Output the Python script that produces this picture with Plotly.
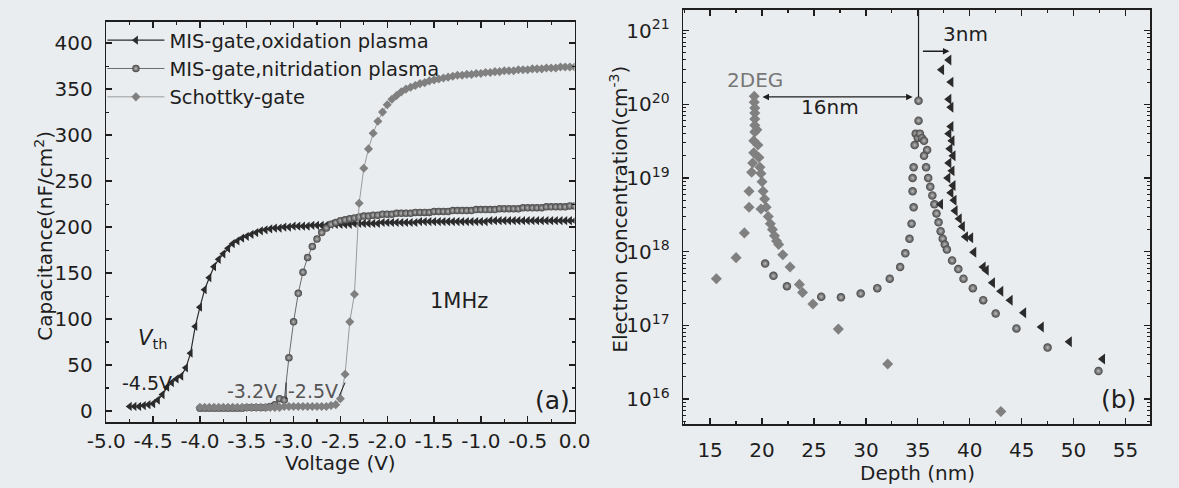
import plotly.graph_objects as go

# ---------------- Panel (a): C-V curves ----------------
V_OX = [-4.75, -4.70, -4.65, -4.60, -4.55, -4.50, -4.45, -4.40, -4.35, -4.30,
        -4.25, -4.20, -4.15, -4.10, -4.05, -4.00, -3.95, -3.90, -3.85, -3.80,
        -3.75, -3.70, -3.65, -3.60, -3.55, -3.50, -3.45, -3.40, -3.35, -3.30,
        -3.25, -3.20, -3.15, -3.10, -3.05, -3.00, -2.95, -2.90, -2.85, -2.80,
        -2.75, -2.70, -2.65, -2.60, -2.55, -2.50, -2.45, -2.40, -2.35, -2.30,
        -2.25, -2.20, -2.15, -2.10, -2.05, -2.00, -1.95, -1.90, -1.85, -1.80,
        -1.75, -1.70, -1.65, -1.60, -1.55, -1.50, -1.45, -1.40, -1.35, -1.30,
        -1.25, -1.20, -1.15, -1.10, -1.05, -1.00, -0.95, -0.90, -0.85, -0.80,
        -0.75, -0.70, -0.65, -0.60, -0.55, -0.50, -0.45, -0.40, -0.35, -0.30,
        -0.25, -0.20, -0.15, -0.10, -0.05, 0.00]
C_OX = [5, 5, 5, 6, 7, 8, 12, 18, 26, 31,
        35, 38, 47, 63, 92, 113, 132, 145, 157, 165,
        171, 177, 182, 185, 188, 190, 192, 194, 196, 197,
        198, 199, 199, 200, 200, 201, 201, 201, 201, 202,
        202, 202, 202, 203, 203, 203, 203, 203, 204, 204,
        204, 204, 204, 204, 205, 205, 205, 205, 205, 205,
        205, 205, 206, 206, 206, 206, 206, 206, 206, 206,
        206, 206, 206, 206, 206, 206, 206, 207, 207, 207,
        207, 207, 207, 207, 207, 207, 207, 207, 207, 207,
        207, 207, 207, 207, 207, 207]

V_NI = [-4.00, -3.95, -3.90, -3.85, -3.80, -3.75, -3.70, -3.65, -3.60, -3.55,
        -3.50, -3.45, -3.40, -3.35, -3.30, -3.25, -3.20, -3.15, -3.10, -3.05,
        -3.00, -2.95, -2.90, -2.85, -2.80, -2.75, -2.70, -2.65, -2.60, -2.55,
        -2.50, -2.45, -2.40, -2.35, -2.30, -2.25, -2.20, -2.15, -2.10, -2.05,
        -2.00, -1.95, -1.90, -1.85, -1.80, -1.75, -1.70, -1.65, -1.60, -1.55,
        -1.50, -1.45, -1.40, -1.35, -1.30, -1.25, -1.20, -1.15, -1.10, -1.05,
        -1.00, -0.95, -0.90, -0.85, -0.80, -0.75, -0.70, -0.65, -0.60, -0.55,
        -0.50, -0.45, -0.40, -0.35, -0.30, -0.25, -0.20, -0.15, -0.10, -0.05,
        0.00]
C_NI = [3, 3, 3, 3, 3, 3, 3, 3, 3, 3,
        4, 4, 4, 4, 4, 5, 7, 13.5, 12, 58,
        97, 128, 151, 167, 179, 187, 194, 199, 203, 205,
        207, 208, 209, 210, 211, 212, 212, 213, 213, 214,
        214, 214, 215, 215, 215, 215, 216, 216, 216, 216,
        217, 217, 217, 217, 218, 218, 218, 218, 218, 219,
        219, 219, 219, 219, 220, 220, 220, 220, 220, 221,
        221, 221, 221, 221, 222, 222, 222, 222, 222, 223,
        223]

V_SC = V_NI
C_SC = [4, 4, 4, 4, 4, 4, 4, 4, 4, 4,
        4, 4, 4, 4, 4, 4, 4, 4, 5, 5,
        5, 5, 5, 5, 5, 5, 5, 5, 6, 7,
        13.5, 40, 97, 127, 226, 264, 285, 302, 315, 325,
        333, 339, 343, 347, 350, 352, 354, 356, 357, 359,
        360, 361, 362, 363, 364, 365, 365, 366, 366, 367,
        367, 368, 368, 369, 369, 370, 370, 370, 371, 371,
        371, 372, 372, 372, 373, 373, 373, 374, 374, 374,
        374]

A_TICKS_X = [-5.0, -4.5, -4.0, -3.5, -3.0, -2.5, -2.0, -1.5, -1.0, -0.5, 0.0]
A_TICKS_Y = [0, 50, 100, 150, 200, 250, 300, 350, 400]

# ---------------- Panel (b): depth profiles ----------------
D_SC = [15.6, 17.5, 18.3, 18.75, 18.75, 19.0, 19.1, 19.2, 19.2, 19.3,
        19.3, 19.3, 19.3, 19.3, 19.25, 19.25, 19.5, 19.6, 19.7, 19.8,
        19.9, 19.9, 20.0, 20.1, 20.25, 20.4, 20.6, 20.8, 21.0, 21.2,
        21.4, 21.6, 22.0, 22.7, 23.6, 23.9, 24.9, 27.35, 32.1, 43.0]
N_SC = [4.3e17, 8.3e17, 1.8e18, 4.0e18, 6.6e18, 1.2e19, 1.6e19, 2.2e19, 3.2e19, 4.2e19,
        5.2e19, 6.3e19, 7.6e19, 8.9e19, 1.07e20, 1.29e20, 4.5e19, 2.8e19, 1.9e19, 1.4e19,
        1.15e19, 3.8e18, 8.9e18, 6.6e18, 5.2e18, 4.0e18, 3.0e18, 2.4e18, 2.0e18, 1.65e18,
        1.4e18, 1.25e18, 9.1e17, 6.2e17, 3.6e17, 2.8e17, 1.95e17, 8.9e16, 3.0e16, 6.8e15]

D_NI = [20.3, 21.1, 22.4, 25.7, 27.6, 29.5, 31.1, 32.3, 33.3, 33.8,
        34.2, 34.4, 34.6, 34.5, 34.5, 34.6, 34.7, 34.8, 35.0, 35.07,
        35.07, 35.2, 35.4, 35.6, 35.9, 35.6, 35.8, 36.0, 36.2, 36.4,
        36.6, 36.8, 37.0, 37.2, 37.4, 37.6, 37.8, 38.3, 38.9, 39.4,
        40.3, 41.3, 42.5, 44.5, 47.5, 52.4]
N_NI = [6.9e17, 4.7e17, 3.4e17, 2.45e17, 2.4e17, 2.7e17, 3.2e17, 4.3e17, 6.2e17, 9.5e17,
        1.5e18, 2.4e18, 4.0e18, 6.6e18, 1.0e19, 1.4e19, 2.8e19, 4.0e19, 3.5e19, 6.0e19,
        1.12e20, 4.0e19, 3.5e19, 3.2e19, 2.4e19, 2.0e19, 1.4e19, 1.0e19, 7.6e18, 5.8e18,
        4.4e18, 3.3e18, 2.5e18, 1.9e18, 1.5e18, 1.25e18, 1.07e18, 7.6e17, 5.8e17, 4.3e17,
        3.2e17, 2.2e17, 1.45e17, 9.1e16, 5.0e16, 2.4e16]

D_OX = [38.0, 37.3, 38.2, 38.0, 38.2, 38.2, 38.0, 38.3, 38.1, 38.4,
        38.0, 38.3, 37.9, 38.4, 38.2, 37.2, 38.5, 38.6, 39.0, 39.3,
        39.6, 40.1, 40.4, 41.3, 41.6, 42.2, 43.0, 43.9, 45.2, 46.9,
        49.6, 52.8]
N_OX = [4.0e20, 2.95e20, 2.0e20, 1.17e20, 9.1e19, 5.0e19, 4.0e19, 3.2e19, 2.5e19, 2.0e19,
        1.6e19, 1.25e19, 1.0e19, 7.9e18, 6.3e18, 4.4e18, 5.0e18, 3.6e18, 2.8e18, 2.2e18,
        1.6e18, 1.55e18, 9.8e17, 6.2e17, 5.6e17, 3.8e17, 2.9e17, 2.2e17, 1.48e17, 9.5e16,
        6.0e16, 3.5e16]

B_TICKS_X = [15, 20, 25, 30, 35, 40, 45, 50, 55]
B_TICKS_Y = [1e16, 1e17, 1e18, 1e19, 1e20, 1e21]
B_EXPONENTS = ["16", "17", "18", "19", "20", "21"]

LEG_OX = "MIS-gate,oxidation plasma"
LEG_NI = "MIS-gate,nitridation plasma"
LEG_SC = "Schottky-gate"

# ---------------- styling ----------------
W, H = 1179, 488
FONT = "DejaVu Sans, Verdana, sans-serif"
INK = "#1e1e1e"
BG = "#eaedf0"
C_DARK = "#2b2b2b"
C_GRAY = "#808080"


def px(x):
    return x / W


def py(y):
    return 1 - y / H


fig = go.Figure()

# panel a traces
fig.add_trace(go.Scatter(x=V_OX, y=C_OX, name=LEG_OX, mode="lines+markers",
                         line=dict(color=C_DARK, width=1.2),
                         marker=dict(symbol="triangle-left", size=8, color=C_DARK),
                         xaxis="x", yaxis="y"))
fig.add_trace(go.Scatter(x=V_NI, y=C_NI, name=LEG_NI, mode="lines+markers",
                         line=dict(color="#6a6a6a", width=1),
                         marker=dict(symbol="circle", size=7.5, color="#444444",
                                     gradient=dict(type="radial", color="#b8b8b8")),
                         xaxis="x", yaxis="y"))
fig.add_trace(go.Scatter(x=V_SC, y=C_SC, name=LEG_SC, mode="lines+markers",
                         line=dict(color="#9a9a9a", width=1),
                         marker=dict(symbol="diamond", size=7, color=C_GRAY),
                         xaxis="x", yaxis="y"))

# panel b traces
fig.add_trace(go.Scatter(x=D_SC, y=N_SC, mode="markers", showlegend=False,
                         marker=dict(symbol="diamond", size=8.5, color=C_GRAY),
                         xaxis="x2", yaxis="y2"))
fig.add_trace(go.Scatter(x=D_NI, y=N_NI, mode="markers", showlegend=False,
                         marker=dict(symbol="circle", size=8.5, color="#444444",
                                     gradient=dict(type="radial", color="#bcbcbc")),
                         xaxis="x2", yaxis="y2"))
fig.add_trace(go.Scatter(x=D_OX, y=N_OX, mode="markers", showlegend=False,
                         marker=dict(symbol="triangle-left", size=9.5, color=C_DARK),
                         xaxis="x2", yaxis="y2"))

axis_common = dict(showline=True, linecolor=INK, linewidth=1.5, mirror="allticks",
                   ticks="inside", ticklen=6, tickwidth=1.3, tickcolor=INK,
                   showgrid=False, zeroline=False,
                   tickfont=dict(family=FONT, size=20, color=INK))

fig.update_layout(
    width=W, height=H,
    margin=dict(l=0, r=0, t=0, b=0),
    paper_bgcolor=BG, plot_bgcolor=BG,
    font=dict(family=FONT, color=INK),
    xaxis=dict(domain=[px(89), px(572)], range=[-5.0, 0.0], anchor="y",
               tickmode="array", tickvals=A_TICKS_X,
               ticktext=["%.1f" % v for v in A_TICKS_X],
               minor=dict(dtick=0.25, tick0=0, ticks="inside", ticklen=3,
                          tickwidth=1.2, tickcolor=INK),
               ticklabelstandoff=0, **axis_common),
    yaxis=dict(domain=[py(423), py(22)], range=[-12, 423], anchor="x",
               tickmode="array", tickvals=A_TICKS_Y,
               minor=dict(dtick=25, tick0=0, ticks="inside", ticklen=3,
                          tickwidth=1.2, tickcolor=INK),
               ticklabelstandoff=8, **axis_common),
    xaxis2=dict(domain=[px(684), px(1166)], range=[12.4, 57.4], anchor="y2",
                tickmode="array", tickvals=B_TICKS_X,
                minor=dict(dtick=2.5, tick0=0, ticks="inside", ticklen=3,
                           tickwidth=1.2, tickcolor=INK),
                ticklabelstandoff=7, **axis_common),
    yaxis2=dict(domain=[py(425), py(10)], type="log", range=[15.66, 21.28], anchor="x2",
                tickmode="array", tickvals=B_TICKS_Y,
                ticktext=["10<sup>%s</sup>" % e for e in B_EXPONENTS],
                minor=dict(dtick="D1", ticks="inside", ticklen=3,
                           tickwidth=1.0, tickcolor=INK),
                ticklabelstandoff=8, **axis_common),
    legend=dict(x=px(85), y=py(21), xanchor="left", yanchor="top",
                bgcolor="rgba(0,0,0,0)", borderwidth=0, tracegroupgap=0,
                itemwidth=57,
                font=dict(family=FONT, size=19.5, color=INK)),
)


def paper_text(text, x, y, size=20, angle=0, color=INK):
    return dict(text=text, x=px(x), y=py(y), xref="paper", yref="paper",
                xanchor="center", yanchor="middle", textangle=angle,
                showarrow=False, font=dict(size=size, family=FONT, color=color))


def data_text(text, x, y, ax="x", size=20, color=INK):
    yr = "y" if ax == "x" else "y2"
    return dict(text=text, x=x, y=y, xref=ax, yref=yr, xanchor="center",
                yanchor="middle", showarrow=False,
                font=dict(size=size, family=FONT, color=color))


ann = [
    paper_text("Voltage (V)", 331, 464),
    paper_text("Capacitance(nF/cm<sup>2</sup>)", 24, 236, angle=-90),
    paper_text("Depth (nm)", 926, 474),
    paper_text("Electron concentration(cm<sup>-3</sup>)", 617, 210, angle=-90),
    data_text("<i>V</i><sub>th</sub>", -4.51, 78, size=21),
    data_text("-4.5V", -4.565, 31, size=19),
    data_text("-3.2V", -3.44, 22, size=19, color="#555555"),
    data_text("-2.5V", -2.79, 22, size=19, color="#555555"),
    data_text("1MHz", -1.23, 120, size=21),
    data_text("(a)", -0.24, 12, size=25),
    # panel b (log axis -> log10 positions)
    data_text("2DEG", 19.3, 20.33, ax="x2", color="#777777"),
    data_text("16nm", 26.5, 19.96, ax="x2"),
    data_text("3nm", 39.6, 20.96, ax="x2"),
    data_text("(b)", 54.35, 15.99, ax="x2", size=25),
    dict(text="", x=34.5, y=20.10, ax=19.9, ay=20.10, xref="x2", yref="y2",
         axref="x2", ayref="y2", showarrow=True, arrowhead=2, startarrowhead=2,
         arrowside="end+start", arrowsize=1, arrowwidth=1.3, arrowcolor=INK),
    dict(text="", x=38.05, y=20.72, ax=35.35, ay=20.72, xref="x2", yref="y2",
         axref="x2", ayref="y2", showarrow=True, arrowhead=2,
         arrowsize=1, arrowwidth=1.3, arrowcolor=INK),
]
fig.update_layout(annotations=ann)

shapes = [
    dict(type="line", x0=-3.08, x1=-3.08, y0=13, y1=31, xref="x", yref="y",
         line=dict(color=INK, width=1)),
    dict(type="line", x0=-2.51, x1=-2.45, y0=17, y1=31, xref="x", yref="y",
         line=dict(color=INK, width=1)),
    dict(type="line", x0=35.07, x1=35.07, y0=1.26e20, y1=1.9e21, xref="x2", yref="y2",
         line=dict(color=INK, width=1.2)),
]
fig.update_layout(shapes=shapes)

fig.write_html(
    "out.html",
    config={"displayModeBar": False, "staticPlot": True},
    post_script="document.body.style.margin='0px';"
                "document.body.style.overflow='hidden';"
                "document.documentElement.style.background='%s';" % BG,
)
